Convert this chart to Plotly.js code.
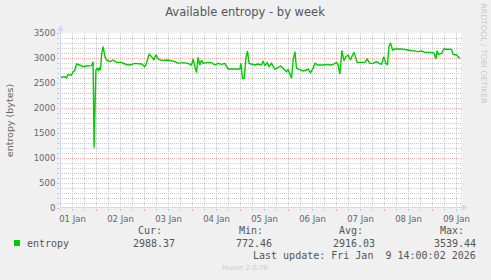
<!DOCTYPE html>
<html>
<head>
<meta charset="utf-8">
<script src="https://cdn.plot.ly/plotly-3.0.1.min.js"></script>
<style>html,body{margin:0;padding:0;background:#F0F0F0;}#chart{width:491px;height:280px;}</style>
</head>
<body>
<div id="chart"></div>
<script>
// Hours since 2026-01-01 00:00
const hours = [
  6.2, 8.2, 9.0, 9.5, 11.5, 12.3, 13.2, 14.0, 15.6, 17.3, 19.0, 21.5, 22.3, 22.8, 23.7,
  24.5, 25.0, 25.5, 26.0, 26.6, 27.3, 28.2, 29.0, 30.7, 32.3, 34.0, 36.5, 38.2, 40.7, 43.2, 46.5,
  48.2, 49.0, 50.3, 51.5, 52.7, 53.7, 54.8, 56.5, 59.8, 63.2, 64.8, 67.3, 69.8, 71.5,
  72.3, 73.2, 74.0, 74.8, 75.7, 76.5, 77.3, 79.8, 81.5, 83.2, 84.8, 86.5, 88.2, 89.8, 91.5, 95.7,
  96.2, 97.0, 97.8, 98.7, 99.5, 100.3, 101.5, 103.2, 104.8, 106.5, 107.3, 108.2, 109.3, 110.3, 111.5, 113.2, 114.8, 116.0, 117.3, 119.0, 119.8,
  120.7, 121.5, 122.3, 123.2, 124.0, 125.7, 127.3, 129.0, 129.8, 131.0, 132.3, 133.2, 134.8, 137.3, 139.0, 140.7, 142.3,
  144.0, 144.8, 145.7, 146.7, 147.7, 148.7, 149.8, 151.0, 151.8, 152.8, 154.3, 156.5, 158.2, 159.3, 160.7, 162.3, 164.0, 165.3, 166.5, 167.7,
  168.7, 169.5, 170.2, 171.0, 172.0, 173.2, 176.5, 179.8, 183.2, 184.8, 186.5, 188.2, 191.5,
  192.8, 193.7, 194.3, 195.0, 196.5, 197.7, 199.8, 201.5, 202.3, 204.0, 205.3, 205.6
];
const entropy = [
  2614, 2627, 2593, 2660, 2660, 2727, 2760, 2880, 2860, 2827, 2840, 2847, 2927, 1207, 2760,
  2800, 2740, 2810, 2760, 3093, 3227, 3027, 2960, 2927, 2960, 2913, 2913, 2880, 2860, 2893, 2880,
  2827, 2893, 3080, 3027, 2960, 3067, 2980, 2953, 2960, 2927, 2893, 2907, 2893, 2860,
  2980, 2827, 2707, 3013, 2860, 2960, 2893, 2913, 2907, 2860, 2893, 2873, 2893, 2780, 2780, 2780,
  2893, 2593, 2593, 2993, 3140, 2893, 2880, 2860, 2880, 2860, 2940, 2847, 2907, 2827, 2893, 2773, 2813, 2840, 2793, 2727, 2773,
  2693, 2593, 2960, 3127, 2793, 2760, 2740, 2760, 2780, 2707, 2793, 2893, 2860, 2860, 2873, 2860, 2873,
  2913, 2860, 2680, 3147, 2947, 3027, 3060, 2960, 3040, 3113, 2913, 2907, 2913, 2980, 2893, 2893, 2927, 2893, 2873, 3027,
  2893, 2860, 3227, 3307, 3160, 3180, 3180, 3160, 3147, 3127, 3140, 3113, 3113,
  3093, 2980, 3147, 3073, 3093, 3180, 3180, 3173, 3073, 3060, 3007, 2990
];
const seriesName = 'entropy';
const statLabels = ['Cur:', 'Min:', 'Avg:', 'Max:'];
const statValues = ['2988.37', '772.46', '2916.03', '3539.44'];
const lastUpdate = 'Last update: Fri Jan \u00A09 14:00:02 2026';
const titleText = 'Available entropy - by week';
const yTitle = 'entropy (bytes)';
const xRange = ['2026-01-01 05:45', '2026-01-09 14:15'];
const yRange = [0, 3500];

function pad(n){return (n<10?'0':'')+n;}
function hToDate(h){
  const d = new Date(Date.UTC(2026,0,1) + Math.round(h*3600000));
  return d.getUTCFullYear()+'-'+pad(d.getUTCMonth()+1)+'-'+pad(d.getUTCDate())+' '+pad(d.getUTCHours())+':'+pad(d.getUTCMinutes())+':'+pad(d.getUTCSeconds());
}
const xDates = hours.map(hToDate);

// pixel -> paper helpers for decorations
const PL = 60, PW = 401, PB = 208, PH = 175;
function P(px){return (px-PL)/PW;}
function Q(py){return (PB-py)/PH;}

const red = 'rgba(255,0,0,0.3)';
const gray = 'rgba(190,190,190,0.8)';
const axisCol = '#CFD6F8';
const fontCol = '#666666';

const trace = {
  type: 'scatter', mode: 'lines', x: xDates, y: entropy, name: seriesName,
  line: {color: '#00CC00', width: 1.4}, hoverinfo: 'skip'
};

const mono = {family: 'DejaVu Sans Mono', size: 10, color: '#555555'};
const annotations = [];
const yHdr = 230.5, yVal = 243, yUpd = 255;
annotations.push({xref:'paper', yref:'paper', x:P(26), y:Q(yVal), xanchor:'left', yanchor:'middle', text: seriesName, showarrow:false, font: mono, borderpad:0});
const hdrRight = [163, 263.5, 363.5, 464.5];
const valRight = [176, 273, 375.5, 477];
statLabels.forEach((s,i)=>{
  annotations.push({xref:'paper', yref:'paper', x:P(hdrRight[i]), y:Q(yHdr), xanchor:'right', yanchor:'middle', text:s, showarrow:false, font: mono, borderpad:0});
  annotations.push({xref:'paper', yref:'paper', x:P(valRight[i]), y:Q(yVal), xanchor:'right', yanchor:'middle', text:statValues[i], showarrow:false, font: mono, borderpad:0});
});
annotations.push({xref:'paper', yref:'paper', x:P(477), y:Q(yUpd), xanchor:'right', yanchor:'middle', text:lastUpdate, showarrow:false, font: mono, borderpad:0});
annotations.push({xref:'paper', yref:'paper', x:P(245), y:Q(268), xanchor:'center', yanchor:'middle', text:'Munin 2.0.76', showarrow:false, font:{family:'DejaVu Sans', size:7, color:'#cccccc'}, borderpad:0});
annotations.push({xref:'paper', yref:'paper', x:P(483.7), y:Q(54), xanchor:'center', yanchor:'middle', text:'RRDTOOL / TOBI OETIKER', textangle:90, showarrow:false, font:{family:'DejaVu Sans', size:7.8, color:'#c8c8c8'}, borderpad:0});

const shapes = [
  // legend swatch
  {type:'rect', xref:'paper', yref:'paper', x0:P(14), x1:P(20), y0:Q(yVal+3), y1:Q(yVal-3), fillcolor:'#00CC00', line:{width:0}},
  // axis extensions + arrows
  {type:'line', xref:'paper', yref:'paper', x0:P(60.5), x1:P(60.5), y0:Q(208), y1:Q(29), line:{color:axisCol, width:1}},
  {type:'path', xref:'paper', yref:'paper', path:'M '+P(60.5)+','+Q(25)+' L '+P(57.5)+','+Q(31)+' L '+P(63.5)+','+Q(31)+' Z', fillcolor:axisCol, line:{width:0}},
  {type:'line', xref:'paper', yref:'paper', x0:P(60), x1:P(464), y0:Q(207.5), y1:Q(207.5), line:{color:axisCol, width:1}},
  {type:'path', xref:'paper', yref:'paper', path:'M '+P(468)+','+Q(207.5)+' L '+P(462)+','+Q(204.5)+' L '+P(462)+','+Q(210.5)+' Z', fillcolor:axisCol, line:{width:0}}
];

const tickFont = {family:'DejaVu Sans', size:8.5, color:fontCol};

const layout = {
  width: 491, height: 280,
  paper_bgcolor: '#F0F0F0', plot_bgcolor: '#FFFFFF',
  margin: {l: PL, r: 491-PL-PW, t: 33, b: 280-PB, pad: 0},
  showlegend: false,
  title: {text: titleText, font: {family:'DejaVu Sans', size: 11.5, color:'#555555'}, xref:'container', yref:'container', x: 245/491, xanchor:'center', y: 1-12/280, yanchor:'middle'},
  xaxis: {
    type:'date', range: xRange, tick0:'2026-01-01', dtick: 86400000,
    ticklabelmode:'period', tickformat:'%d %b', tickfont: tickFont, ticklabelstandoff: 1,
    showgrid:true, gridcolor: red, griddash:'1px,1px', gridwidth:1,
    showline:false, zeroline:false,
    ticks:'outside', ticklen:2, tickcolor: red,
    minor: {dtick: 6*3600000, showgrid:true, gridcolor: gray, griddash:'1px,1px', ticks:'outside', ticklen:2, tickcolor: gray},
    fixedrange:true
  },
  yaxis: {
    range: yRange, tick0:0, dtick:500, tickfont: tickFont,
    showgrid:true, gridcolor: red, griddash:'1px,1px', gridwidth:1,
    showline:false, zeroline:false,
    ticks:'outside', ticklen:2, tickcolor: red,
    minor: {dtick:100, showgrid:true, gridcolor: gray, griddash:'1px,1px', ticks:'outside', ticklen:2, tickcolor: gray},
    title: {text: yTitle, font:{family:'DejaVu Sans', size:9.5, color:fontCol}, standoff: 18},
    fixedrange:true
  },
  annotations: annotations,
  shapes: shapes
};

Plotly.newPlot('chart', [trace], layout, {displayModeBar:false, staticPlot:true});
</script>
</body>
</html>
